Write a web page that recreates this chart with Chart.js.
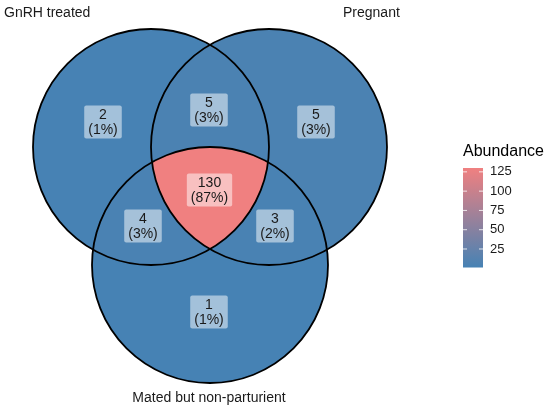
<!DOCTYPE html>
<html>
<head>
<meta charset="utf-8">
<script src="https://cdn.jsdelivr.net/npm/chart.js@4/dist/chart.umd.min.js"></script>
<style>
  html, body { margin: 0; padding: 0; background: #fff; }
  #wrap { width: 550px; height: 412px; position: relative; }
</style>
</head>
<body>
<div id="wrap"><canvas id="venn"></canvas></div>
<script>
// data
const setNames = ['GnRH treated', 'Pregnant', 'Mated but non-parturient']
const regionSets = [[0], [1], [2], [0, 1], [0, 2], [1, 2], [0, 1, 2]]
const regionCounts = [2, 5, 1, 5, 4, 3, 130]
const regionPercents = ['1%', '3%', '1%', '3%', '3%', '2%', '87%']
const legendTicks = [25, 50, 75, 100, 125]
const legendMin = 1
const legendMax = 130

// layout (in the chart's data units, 1 unit = 1 px)
const circles = [
  { x: 151, y: 147, r: 118 },
  { x: 269, y: 147, r: 118 },
  { x: 210, y: 265, r: 118 },
]
const labelSpots = [
  { x: 103, y: 122 }, { x: 316, y: 122 }, { x: 209, y: 312 },
  { x: 209, y: 110 }, { x: 143, y: 226 }, { x: 275, y: 226 }, { x: 209.5, y: 190 },
]
const nameSpots = [
  { x: 4, y: 13, align: 'left' },
  { x: 343, y: 13, align: 'left' },
  { x: 209, y: 398, align: 'center' },
]
const bar = { x0: 463, x1: 483, topY: 168, bottomY: 267.5 }

const lowCol = [70, 130, 180]
const highCol = [240, 128, 128]
const FONT = '"Liberation Sans", Arial, sans-serif'

function fillColor(v) {
  let t = (v - legendMin) / (legendMax - legendMin)
  t = Math.max(0, Math.min(1, t))
  let c = lowCol.map((l, i) => Math.round(l + (highCol[i] - l) * t))
  return 'rgb(' + c.join(',') + ')'
}

function barY(v) {
  return bar.bottomY - (v - legendMin) / (legendMax - legendMin) * (bar.bottomY - bar.topY)
}

const vennPlugin = {
  id: 'venn',
  beforeDatasetsDraw(chart) {
    const ctx = chart.ctx
    const xs = chart.scales.x, ys = chart.scales.y
    const px = circles.map(c => ({
      x: xs.getPixelForValue(c.x),
      y: ys.getPixelForValue(c.y),
      r: xs.getPixelForValue(c.x + c.r) - xs.getPixelForValue(c.x),
    }))
    const W = chart.width, H = chart.height

    regionSets.forEach((members, k) => {
      ctx.save()
      px.forEach((c, i) => {
        ctx.beginPath()
        const inside = members.indexOf(i) >= 0
        if (!inside) ctx.rect(-10, -10, W + 20, H + 20)
        ctx.moveTo(c.x + c.r, c.y)
        ctx.arc(c.x, c.y, c.r, 0, Math.PI * 2)
        ctx.clip(inside ? 'nonzero' : 'evenodd')
      })
      ctx.fillStyle = fillColor(regionCounts[k])
      ctx.fillRect(0, 0, W, H)
      ctx.restore()
    })

    ctx.save()
    ctx.strokeStyle = '#000'
    ctx.lineWidth = 1.8
    px.forEach(c => {
      ctx.beginPath()
      ctx.arc(c.x, c.y, c.r, 0, Math.PI * 2)
      ctx.stroke()
    })
    ctx.restore()
  },
  afterDatasetsDraw(chart) {
    const ctx = chart.ctx
    const xs = chart.scales.x, ys = chart.scales.y
    const meta = chart.getDatasetMeta(0)

    ctx.save()
    ctx.font = '14px ' + FONT
    ctx.textAlign = 'center'
    ctx.textBaseline = 'middle'
    meta.data.forEach((pt, k) => {
      const l1 = String(regionCounts[k])
      const l2 = '(' + regionPercents[k] + ')'
      const w = Math.max(ctx.measureText(l1).width, ctx.measureText(l2).width) + 8
      const h = 33
      ctx.fillStyle = 'rgba(255,255,255,0.5)'
      ctx.beginPath()
      ctx.roundRect(pt.x - w / 2, pt.y - h / 2, w, h, 2)
      ctx.fill()
      ctx.fillStyle = '#1a1a1a'
      ctx.fillText(l1, pt.x, pt.y - 7)
      ctx.fillText(l2, pt.x, pt.y + 8)
    })

    // set names
    ctx.fillStyle = '#1a1a1a'
    setNames.forEach((name, i) => {
      const s = nameSpots[i]
      ctx.textAlign = s.align
      ctx.fillText(name, xs.getPixelForValue(s.x), ys.getPixelForValue(s.y))
    })

    // colour bar legend
    const bx0 = xs.getPixelForValue(bar.x0), bx1 = xs.getPixelForValue(bar.x1)
    const top = ys.getPixelForValue(bar.topY), bottom = ys.getPixelForValue(bar.bottomY)
    const grad = ctx.createLinearGradient(0, top, 0, bottom)
    for (let i = 0; i <= 10; i++) {
      grad.addColorStop(i / 10, fillColor(legendMax - (legendMax - legendMin) * i / 10))
    }
    ctx.fillStyle = grad
    ctx.fillRect(bx0, top, bx1 - bx0, bottom - top)

    ctx.font = '16px ' + FONT
    ctx.textAlign = 'left'
    ctx.fillStyle = '#000'
    ctx.fillText('Abundance', bx0, ys.getPixelForValue(152))

    ctx.font = '13px ' + FONT
    legendTicks.forEach(v => {
      const y = ys.getPixelForValue(barY(v))
      ctx.strokeStyle = 'rgba(255,255,255,0.8)'
      ctx.lineWidth = 1
      ctx.beginPath()
      ctx.moveTo(bx0, y); ctx.lineTo(bx0 + 4, y)
      ctx.moveTo(bx1 - 4, y); ctx.lineTo(bx1, y)
      ctx.stroke()
      ctx.fillStyle = '#1a1a1a'
      ctx.fillText(String(v), xs.getPixelForValue(490), y)
    })
    ctx.restore()
  },
}

new Chart(document.getElementById('venn'), {
  type: 'scatter',
  data: {
    datasets: [{
      label: 'regions',
      data: labelSpots,
      pointRadius: 0,
    }],
  },
  options: {
    responsive: true,
    maintainAspectRatio: false,
    animation: false,
    layout: { padding: 0 },
    scales: {
      x: { type: 'linear', min: 0, max: 550, display: false },
      y: { type: 'linear', min: 0, max: 412, reverse: true, display: false },
    },
    plugins: {
      legend: { display: false },
      tooltip: { enabled: false },
    },
  },
  plugins: [vennPlugin],
})
</script>
</body>
</html>
